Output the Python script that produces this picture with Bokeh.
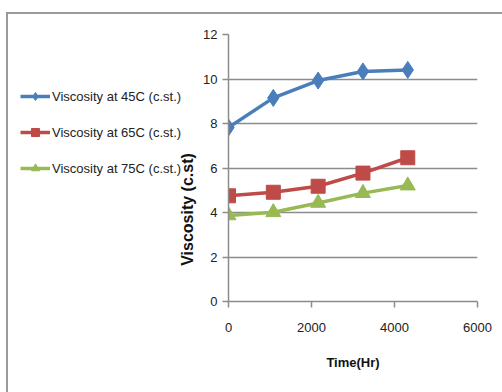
import math
from bokeh.plotting import figure
from bokeh.layouts import row
from bokeh.models import Legend, LegendItem, Label, FixedTicker, Range1d
from bokeh.embed import file_html
from bokeh.resources import INLINE

time_hr = [0, 1080, 2160, 3240, 4320]
visc_45 = [7.82, 9.15, 9.93, 10.34, 10.41]
visc_65 = [4.75, 4.91, 5.18, 5.77, 6.46]
visc_75 = [3.87, 4.01, 4.43, 4.87, 5.21]
series_names = ["Viscosity at 45C (c.st.)", "Viscosity at 65C (c.st.)", "Viscosity at 75C (c.st.)"]
x_ticks = [0, 2000, 4000, 6000]
y_ticks = [0, 2, 4, 6, 8, 10, 12]

FONT = "Liberation Sans"
GRAY = "#8c8c8c"
colors = ["#4a7ebb", "#be4b48", "#98b954"]
markers = ["diamond", "square", "triangle"]
sizes = [17, 14, 15]
data = [visc_45, visc_65, visc_75]

# main chart
p = figure(width=302, height=378, output_backend="svg", toolbar_location=None,
           x_range=Range1d(0, 6000), y_range=Range1d(0, 12),
           min_border_left=28, min_border_right=25, min_border_top=20, min_border_bottom=91)
p.outline_line_color = None
p.xgrid.grid_line_color = None
p.ygrid.grid_line_color = GRAY
p.ygrid.grid_line_width = 1.5
p.ygrid.ticker = FixedTicker(ticks=y_ticks)
p.xaxis.ticker = FixedTicker(ticks=x_ticks)
p.yaxis.ticker = FixedTicker(ticks=y_ticks)
for ax in (p.xaxis[0], p.yaxis[0]):
    ax.axis_line_color = GRAY
    ax.axis_line_width = 1.5
    ax.major_tick_line_color = GRAY
    ax.major_tick_line_width = 1.5
    ax.major_tick_in = 0
    ax.major_tick_out = 6
    ax.minor_tick_line_color = None
    ax.major_label_text_font = FONT
    ax.major_label_text_font_size = "13px"
    ax.major_label_text_color = "#222222"
p.yaxis.major_label_standoff = 5
p.xaxis.major_label_standoff = 15
p.xaxis.axis_label = "Time(Hr)"
p.xaxis.axis_label_text_font = FONT
p.xaxis.axis_label_text_font_size = "13px"
p.xaxis.axis_label_text_font_style = "bold"
p.xaxis.axis_label_text_color = "#111111"
p.xaxis.axis_label_standoff = 20

for ys, c, m, s in zip(data, colors, markers, sizes):
    p.line(time_hr, ys, line_color=c, line_width=3.5)
    p.scatter(time_hr, ys, marker=m, size=s, fill_color=c, line_color=c)

# left panel: legend and y title (its frame is aligned with the main frame)
lf = figure(width=192, height=378, output_backend="svg", toolbar_location=None,
            x_range=Range1d(-20000, -19000), y_range=Range1d(-20, -19),
            min_border=0, min_border_left=0, min_border_right=0,
            min_border_top=0, min_border_bottom=0)
lf.axis.visible = False
lf.grid.visible = False
lf.outline_line_color = None
items = []
for name, ys, c, m, s in zip(series_names, data, colors, markers, sizes):
    ln = lf.line(time_hr, ys, line_color=c, line_width=3.5)
    sc = lf.scatter(time_hr, ys, marker=m, size=12, fill_color=c, line_color=c)
    items.append(LegendItem(label=name, renderers=[ln, sc]))
legend = Legend(items=items, location=(12, 123), orientation="vertical",
                glyph_width=30, glyph_height=20, label_height=20, label_standoff=2,
                spacing=16, padding=0, margin=0,
                border_line_alpha=0, background_fill_alpha=0,
                label_text_font=FONT, label_text_font_size="13px",
                label_text_color="#222222")
lf.add_layout(legend, "center")

ytitle = Label(x=179, y=92, x_units="screen", y_units="screen",
               text="Viscosity (c.st)", angle=math.pi / 2,
               text_font=FONT, text_font_size="16px", text_font_style="bold",
               text_align="center", text_baseline="middle", text_color="#111111")
lf.add_layout(ytitle)

layout = row(lf, p, spacing=0)
layout.margin = (12, 0, 0, 6)
layout.styles = {"border-left": "2px solid #9a9a9a", "border-top": "2px solid #9a9a9a"}

open("out.html", "w").write(file_html(layout, INLINE))
